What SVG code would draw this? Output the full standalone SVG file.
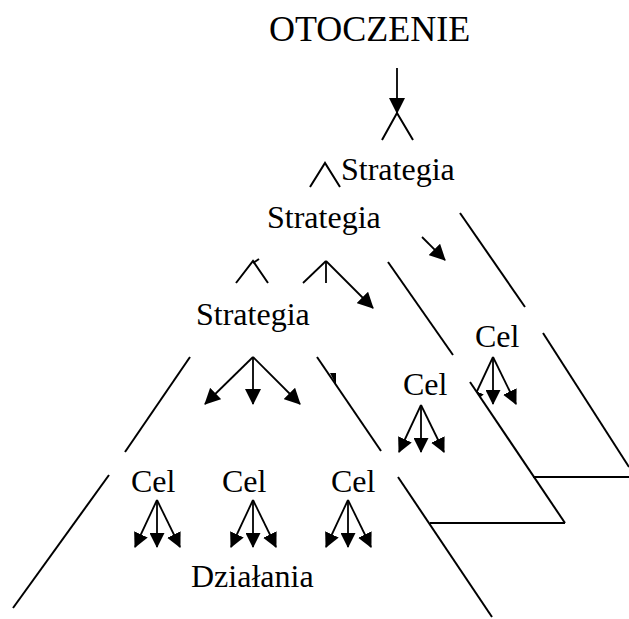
<svg xmlns="http://www.w3.org/2000/svg" width="629" height="619" viewBox="0 0 629 619">
  <style>
    text { font-family: "Liberation Serif", "Times New Roman", serif; fill: #000; }
    .t32 { font-size: 32px; }
    .t36 { font-size: 36px; }
    .side { stroke: #000; stroke-width: 2; fill: none; stroke-linecap: butt; }
    .arr { stroke: #000; stroke-width: 1.8; fill: none; }
    .big { marker-end: url(#headBig); }
    .small { marker-end: url(#headSmall); }
  </style>
  <defs>
    <marker id="headBig" viewBox="0 0 16 16" refX="15" refY="8" markerWidth="16" markerHeight="16" markerUnits="userSpaceOnUse" orient="auto">
      <path d="M0,0 L16,8 L0,16 Z" fill="#000"/>
    </marker>
    <marker id="headSmall" viewBox="0 0 15 15" refX="14" refY="7.5" markerWidth="15" markerHeight="15" markerUnits="userSpaceOnUse" orient="auto">
      <path d="M0,0 L15,7.5 L0,15 Z" fill="#000"/>
    </marker>
    <clipPath id="behindP2">
      <polygon points="442,340 629,340 629,420 495.5,420"/>
    </clipPath>
  </defs>

  <g id="pyramids">
    <g id="pyramid-3">
      <polyline class="side" points="382,140 397,113 413,140"/>
      <line class="side" x1="460" y1="213" x2="525" y2="307"/>
      <line class="side" x1="543" y1="333" x2="629" y2="467"/>
      <line class="side" x1="533" y1="477" x2="629" y2="477"/>
    </g>
    <g id="pyramid-2">
      <polyline class="side" points="310,187 325,163 340,187"/>
      <line class="side" x1="253" y1="263" x2="259" y2="259"/>
      <line class="side" x1="388" y1="262" x2="453" y2="355"/>
      <line class="side" x1="470" y1="382" x2="565" y2="523"/>
      <line class="side" x1="430" y1="523" x2="565" y2="523"/>
      <polygon points="330,373 336,373 336,385" fill="#000"/>
    </g>
    <g id="pyramid-1">
      <polyline class="side" points="236,283 253,261 268,283"/>
      <line class="side" x1="190" y1="357" x2="125" y2="452"/>
      <line class="side" x1="109" y1="475" x2="13" y2="608"/>
      <line class="side" x1="317" y1="357" x2="381" y2="451"/>
      <line class="side" x1="398" y1="477" x2="492" y2="617"/>
    </g>
  </g>

  <g id="connectors">
    <line class="arr big" x1="397" y1="68" x2="397" y2="113"/>
    <line class="arr big" x1="422" y1="237" x2="445" y2="260"/>
    <line class="arr" x1="326" y1="261" x2="303" y2="283"/>
    <line class="arr" x1="326" y1="261" x2="326" y2="283"/>
    <line class="arr big" x1="326" y1="261" x2="373" y2="308"/>
    <line class="arr big" x1="253" y1="357" x2="205" y2="404"/>
    <line class="arr big" x1="253" y1="357" x2="253" y2="404"/>
    <line class="arr big" x1="253" y1="357" x2="300" y2="404"/>
    <line class="arr small" x1="157" y1="500" x2="135" y2="547"/>
    <line class="arr small" x1="157" y1="500" x2="157" y2="547"/>
    <line class="arr small" x1="157" y1="500" x2="180" y2="547"/>
    <line class="arr small" x1="253" y1="500" x2="231" y2="547"/>
    <line class="arr small" x1="253" y1="500" x2="253" y2="547"/>
    <line class="arr small" x1="253" y1="500" x2="276" y2="547"/>
    <line class="arr small" x1="348" y1="500" x2="326" y2="547"/>
    <line class="arr small" x1="348" y1="500" x2="348" y2="547"/>
    <line class="arr small" x1="348" y1="500" x2="371" y2="547"/>
    <line class="arr small" x1="421" y1="405" x2="399" y2="452"/>
    <line class="arr small" x1="421" y1="405" x2="421" y2="452"/>
    <line class="arr small" x1="421" y1="405" x2="444" y2="452"/>
    <line class="arr small" x1="493" y1="357" x2="471" y2="404" clip-path="url(#behindP2)"/>
    <line class="arr small" x1="493" y1="357" x2="493" y2="404"/>
    <line class="arr small" x1="493" y1="357" x2="516" y2="404"/>
  </g>

  <g id="otoczenie"><text class="t36" x="269" y="41">OTOCZENIE</text></g>
  <g id="strategia-3"><text class="t32" x="341" y="180">Strategia</text></g>
  <g id="strategia-2"><text class="t32" x="267" y="228">Strategia</text></g>
  <g id="strategia-1"><text class="t32" x="196" y="325">Strategia</text></g>
  <g id="cel-3"><text class="t32" x="475" y="347">Cel</text></g>
  <g id="cel-2"><text class="t32" x="403" y="395">Cel</text></g>
  <g id="cel-1a"><text class="t32" x="131" y="492">Cel</text></g>
  <g id="cel-1b"><text class="t32" x="222" y="492">Cel</text></g>
  <g id="cel-1c"><text class="t32" x="331" y="492">Cel</text></g>
  <g id="dzialania"><text class="t32" x="191" y="587">Działania</text></g>
</svg>
